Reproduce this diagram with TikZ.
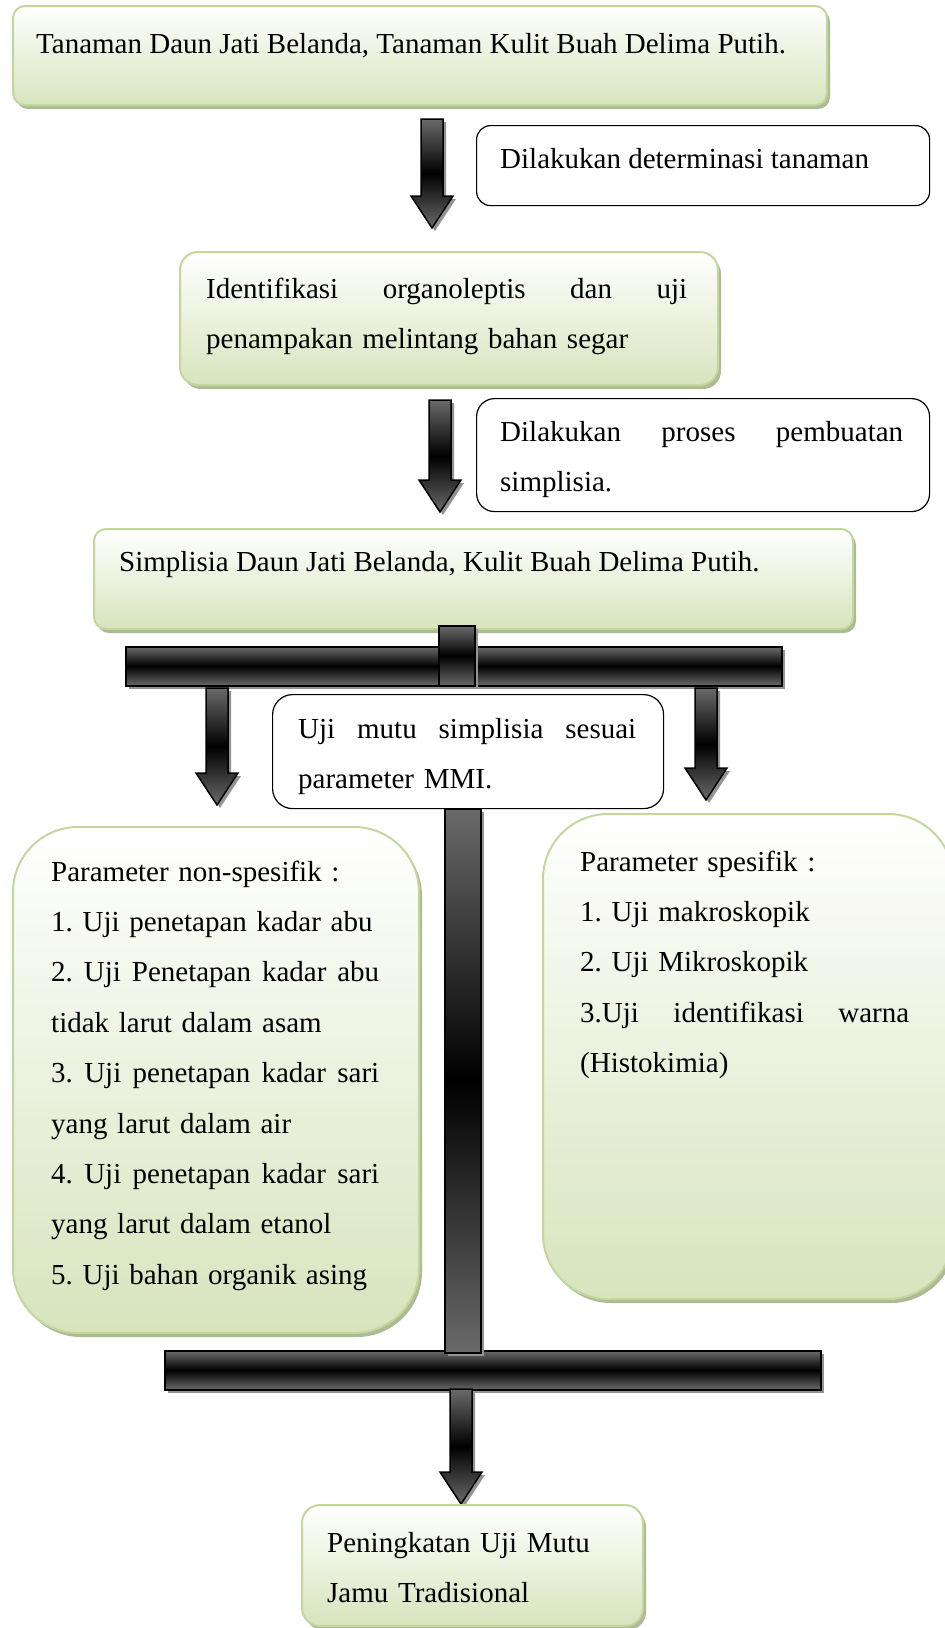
\documentclass[tikz,border=0pt]{standalone}
\usepackage{fontspec}
\setmainfont{Liberation Serif}
\usetikzlibrary{positioning,shadows,calc}
\definecolor{boxgreen}{HTML}{D7E4BD}
\definecolor{boxline}{HTML}{C3D69B}
\definecolor{boxshadow}{HTML}{A3B38A}
\definecolor{bargray}{HTML}{6A6A6A}

% block arrow pointing down, from tail coordinate to tip coordinate
\newcommand{\blockarrow}[2]{%
  \path[barfill] let \p1=(#1), \p2=(#2) in
    (\x1-11pt,\y1) -- (\x1+11pt,\y1) -- (\x1+11pt,\y2+32pt) -- (\x1+21pt,\y2+32pt)
    -- (\x1,\y2) -- (\x1-21pt,\y2+32pt) -- (\x1-11pt,\y2+32pt) -- cycle;}

\begin{document}
\begin{tikzpicture}[x=1pt,y=-1pt,
  gbox/.style = {draw=boxline, line width=2pt, top color=white, bottom color=boxgreen,
    drop shadow={shadow xshift=3pt, shadow yshift=-4pt, fill=boxshadow, opacity=0.9},
    anchor=north west, inner sep=0},
  wbox/.style = {draw=black, line width=1.2pt, fill=white, anchor=north west, inner sep=0},
  txt/.style = {anchor=base west, inner sep=0, align=left, font=\fontsize{29}{50.4}\selectfont\frenchspacing},
  barfill/.style = {draw=black, line width=1.5pt, top color=bargray, bottom color=bargray, middle color=black,
    drop shadow={shadow xshift=3pt, shadow yshift=-3pt, fill=gray!85, opacity=1}},
  bar/.style = {barfill, anchor=north west, inner sep=0, rectangle}]
\useasboundingbox (0,0) rectangle (945,1628);

% top row
\node[gbox, rounded corners=12pt, minimum width=814pt, minimum height=99pt] (tanaman) at (12,5) {};
\node[txt] (tanamantxt) at ([shift={(24,48)}]tanaman.north west) {Tanaman Daun Jati Belanda, Tanaman Kulit Buah Delima Putih.};

\coordinate (a1s) at (432,119);
\coordinate (a1e) at (432,228);
\blockarrow{a1s}{a1e}
\node[wbox, rounded corners=14pt, minimum width=453pt, minimum height=80pt] (determinasi) at (476,125) {};
\node[txt] (determinasitxt) at ([shift={(24,43)}]determinasi.north west) {Dilakukan determinasi tanaman};

\node[gbox, rounded corners=18pt, minimum width=538pt, minimum height=133pt] (identifikasi) at (179,251) {};
\node[txt, text width=481pt] (identifikasitxt) at ([shift={(27,47)}]identifikasi.north west)
  {Identifikasi\hfill organoleptis\hfill dan\hfill uji\\ penampakan melintang bahan segar};

\coordinate (a2s) at (440,400);
\coordinate (a2e) at (440,512);
\blockarrow{a2s}{a2e}
\node[wbox, rounded corners=18pt, minimum width=453pt, minimum height=113pt] (proses) at (476,398) {};
\node[txt, text width=403pt] (prosestxt) at ([shift={(24,43)}]proses.north west)
  {Dilakukan\hfill proses\hfill pembuatan\\ simplisia.};

\node[gbox, rounded corners=12pt, minimum width=759pt, minimum height=100pt] (simplisia) at (93,528) {};
\node[txt] (simplisiatxt) at ([shift={(26,43)}]simplisia.north west) {Simplisia Daun Jati Belanda, Kulit Buah Delima Putih.};

% split bar
\node[bar, minimum width=656pt, minimum height=39pt] (bar1) at (125,646) {};
\node[bar, minimum width=36pt, minimum height=60pt] (nub) at (438,625) {};

\coordinate (a3s) at (217,688);
\coordinate (a3e) at (217,805);
\blockarrow{a3s}{a3e}
\coordinate (a4s) at (706,688);
\coordinate (a4e) at (706,800);
\blockarrow{a4s}{a4e}

% join bar
\node[bar, minimum width=656pt, minimum height=39pt] (bar2) at (164,1350) {};
\node[bar, minimum width=36pt, minimum height=544pt] (vbar) at (444,808) {};

\node[wbox, rounded corners=20pt, minimum width=391pt, minimum height=114pt] (ujimutu) at (272,694) {};
\node[txt, text width=338pt] (ujimututxt) at ([shift={(26,44)}]ujimutu.north west)
  {Uji\hfill mutu\hfill simplisia\hfill sesuai\\ parameter MMI.};

\node[gbox, rounded corners=65pt, minimum width=406pt, minimum height=506pt] (nonspesifik) at (12,826) {};
\node[txt, text width=328pt] (nonspesifiktxt) at ([shift={(39,55)}]nonspesifik.north west)
  {Parameter non-spesifik :\\
   1. Uji penetapan kadar abu\\
   2.\hfill Uji\hfill Penetapan\hfill kadar\hfill abu\\
   tidak larut dalam asam\\
   3.\hfill Uji\hfill penetapan\hfill kadar\hfill sari\\
   yang larut dalam air\\
   4.\hfill Uji\hfill penetapan\hfill kadar\hfill sari\\
   yang larut dalam etanol\\
   5. Uji bahan organik asing};

\node[gbox, rounded corners=65pt, minimum width=410pt, minimum height=485pt] (spesifik) at (542,813) {};
\node[txt, text width=329pt] (spesifiktxt) at ([shift={(38,58)}]spesifik.north west)
  {Parameter spesifik :\\
   1. Uji makroskopik\\
   2. Uji Mikroskopik\\
   3.Uji\hfill identifikasi\hfill warna\\
   (Histokimia)};

\coordinate (a5s) at (461,1389);
\coordinate (a5e) at (461,1504);
\blockarrow{a5s}{a5e}
\node[gbox, rounded corners=18pt, minimum width=341pt, minimum height=121pt] (hasil) at (301,1504) {};
\node[txt, text width=300pt] (hasiltxt) at ([shift={(26,48)}]hasil.north west) {Peningkatan Uji Mutu\\ Jamu Tradisional};
\end{tikzpicture}
\end{document}
